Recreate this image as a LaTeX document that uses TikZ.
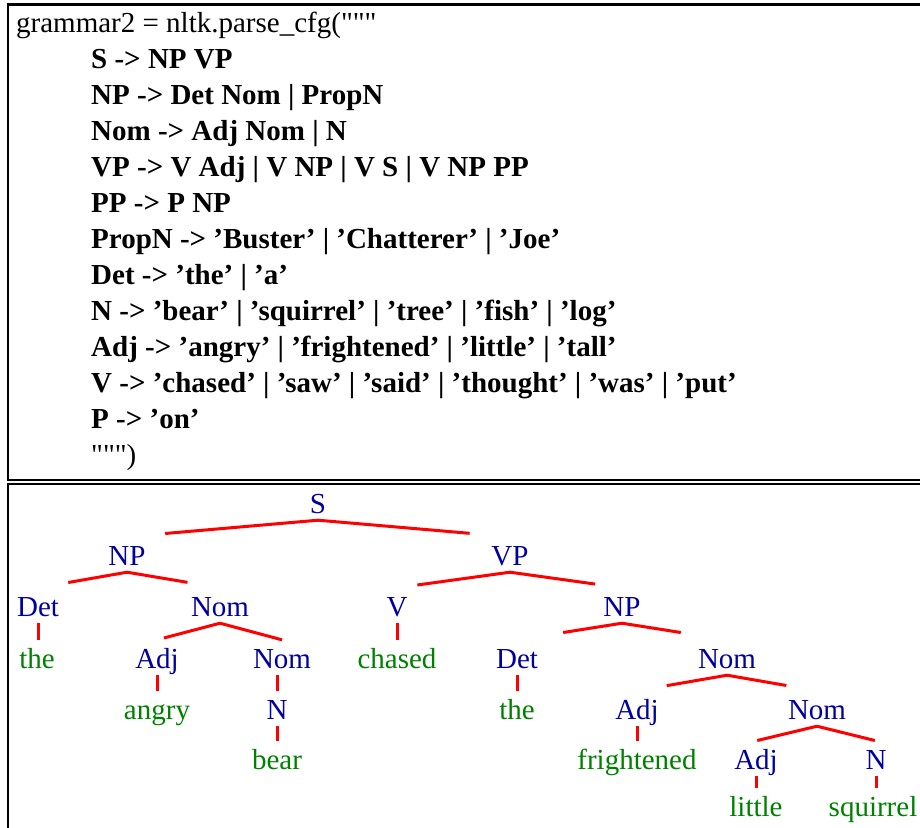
\documentclass[tikz,border=0pt]{standalone}
\usepackage{fontspec}
\setmainfont{Liberation Serif}[Ligatures=TeXOff]
\usetikzlibrary{calc}
\definecolor{catblue}{RGB}{0,0,160}
\definecolor{leafgreen}{RGB}{0,128,0}
\definecolor{branchred}{RGB}{255,0,0}

\begin{document}
\begin{tikzpicture}[x=1pt,y=-1pt,
  code/.style={anchor=base west, inner sep=0pt, font=\fontsize{29}{34}\selectfont},
  rulebold/.style={code, font=\fontsize{29}{34}\selectfont\bfseries},
  lbl/.style={anchor=base, inner xsep=0pt, inner ysep=1pt, text height=27pt, text depth=6pt, font=\fontsize{29}{34}\selectfont},
  cat/.style={lbl, text=catblue},
  word/.style={lbl, text=leafgreen},
  branch/.style={draw=branchred, line width=3pt},
  frame/.style={draw=black, line width=2.2pt}]
\useasboundingbox (0,0) rectangle (920,827);

% frames
\draw[frame] (922,4.5) -- (8.3,4.5) -- (8.3,480) -- (922,480);
\draw[frame] (922,483.7) -- (8.3,483.7) -- (8.3,829);

% grammar source
\node[code] (g0) at (16,32) {grammar2 = nltk.parse\_cfg("""};
\node[rulebold] (g1) at (91,68) {S -> NP VP};
\node[rulebold] (g2) at (91,104) {NP -> Det Nom | PropN};
\node[rulebold] (g3) at (91,140) {Nom -> Adj Nom | N};
\node[rulebold] (g4) at (91,176) {VP -> V Adj | V NP | V S | V NP PP};
\node[rulebold] (g5) at (91,212) {PP -> P NP};
\node[rulebold] (g6) at (91,248) {PropN -> ’Buster’ | ’Chatterer’ | ’Joe’};
\node[rulebold] (g7) at (91,284) {Det -> ’the’ | ’a’};
\node[rulebold] (g8) at (91,320) {N -> ’bear’ | ’squirrel’ | ’tree’ | ’fish’ | ’log’};
\node[rulebold] (g9) at (91,356) {Adj -> ’angry’ | ’frightened’ | ’little’ | ’tall’};
\node[rulebold] (g10) at (91,392) {V -> ’chased’ | ’saw’ | ’said’ | ’thought’ | ’was’ | ’put’};
\node[rulebold] (g11) at (91,428) {P -> ’on’};
\node[code] (g12) at (91,464) {""")};

% parse tree
\node[cat] (s) at (318,513) {S};
\node[cat] (np1) at (127,565) {NP};
\node[cat] (vp) at (510,565) {VP};
\node[cat] (det1) at (38,616) {Det};
\node[cat] (nom1) at (220,616) {Nom};
\node[cat] (v) at (397,616) {V};
\node[cat] (np2) at (622,616) {NP};
\node[word] (the1) at (37,668) {the};
\node[cat] (adj1) at (157,668) {Adj};
\node[cat] (nom2) at (282,668) {Nom};
\node[word] (chased) at (397,668) {chased};
\node[cat] (det2) at (517,668) {Det};
\node[cat] (nom3) at (727,668) {Nom};
\node[word] (angry) at (157,719) {angry};
\node[cat] (n1) at (277,719) {N};
\node[word] (the2) at (517,719) {the};
\node[cat] (adj2) at (637,719) {Adj};
\node[cat] (nom4) at (817,719) {Nom};
\node[word] (bear) at (277,769) {bear};
\node[word] (frightened) at (637,769) {frightened};
\node[cat] (adj3) at (756,769) {Adj};
\node[cat] (n2) at (876,769) {N};
\node[word] (little) at (756,816) {little};
\node[word] (squirrel) at (873,816) {squirrel};

% branches to several children
\draw[branch] (s.south) -- ($(s.south)!0.80!(np1.north)$);
\draw[branch] (s.south) -- ($(s.south)!0.79!(vp.north)$);
\draw[branch] (np1.south) -- ($(np1.south)!0.66!(det1.north)$);
\draw[branch] (np1.south) -- ($(np1.south)!0.65!(nom1.north)$);
\draw[branch] (vp.south) -- ($(vp.south)!0.82!(v.north)$);
\draw[branch] (vp.south) -- ($(vp.south)!0.76!(np2.north)$);
\draw[branch] (nom1.south) -- ($(nom1.south)!0.89!(adj1.north)$);
\draw[branch] (nom1.south) -- (nom2.north);
\draw[branch] (np2.south) -- ($(np2.south)!0.56!(det2.north)$);
\draw[branch] (np2.south) -- ($(np2.south)!0.56!(nom3.north)$);
\draw[branch] (nom3.south) -- ($(nom3.south)!0.67!(adj2.north)$);
\draw[branch] (nom3.south) -- ($(nom3.south)!0.66!(nom4.north)$);
\draw[branch] (nom4.south) -- ($(nom4.south)!0.98!(adj3.north)$);
\draw[branch] (nom4.south) -- ($(nom4.south)!0.98!(n2.north)$);

% unary branches, drawn straight down
\draw[branch] (det1.south) -- (det1.south |- the1.north);
\draw[branch] (v.south) -- (v.south |- chased.north);
\draw[branch] (adj1.south) -- (adj1.south |- angry.north);
\draw[branch] (n1.north |- nom2.south) -- (n1.north);
\draw[branch] (n1.south) -- (n1.south |- bear.north);
\draw[branch] (det2.south) -- (det2.south |- the2.north);
\draw[branch] (adj2.south) -- (adj2.south |- frightened.north);
\draw[branch] (adj3.south) -- (adj3.south |- little.north);
\draw[branch] (n2.south) -- (n2.south |- squirrel.north);
\end{tikzpicture}
\end{document}
